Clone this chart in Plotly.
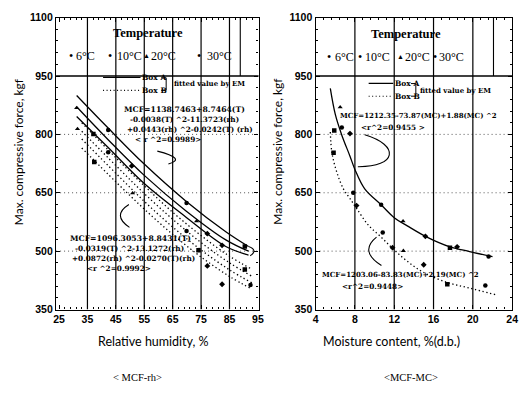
import plotly.graph_objects as go

W, H = 528, 396

# ---------------- data : left panel (MCF vs relative humidity) ----------------
t6_rh = [37.1, 37.4, 74.1, 90.4, 90.4]
t6_mcf = [801, 729, 502, 512, 453]
t10_rh = [42.3, 42.3, 69.9, 69.9, 92.4]
t10_mcf = [811, 754, 624, 552, 413]
t20_rh = [31.2, 31.5, 50.9, 73.4]
t20_mcf = [868, 814, 649, 577]
t30_rh = [50.6, 77.2, 77.2, 82.4, 82.4]
t30_mcf = [719, 545, 462, 515, 415]

boxA_rh = [31.2, 42.2, 54.8, 69.6, 83.7, 91.7]
boxA1_mcf = [900, 817, 725, 629, 550, 512]
boxA2_mcf = [871, 787, 696, 604, 529, 500]
boxA3_mcf = [846, 767, 675, 588, 512, 490]

boxB_rh = [33, 45, 55, 65, 75, 85, 93]
boxB1_mcf = [830, 740, 668, 600, 540, 487, 453]
boxB2_mcf = [808, 720, 648, 582, 522, 470, 435]
boxB3_mcf = [788, 700, 628, 562, 503, 452, 418]
boxB4_mcf = [765, 678, 608, 543, 485, 435, 402]

# ---------------- data : right panel (MCF vs moisture content) ----------------
r6_mc = [5.9, 5.83, 17.67, 17.4]
r6_mcf = [810, 753, 509, 415]
r10_mc = [6.67, 7.83, 10.67, 10.83, 21.6, 21.27]
r10_mcf = [818, 650, 619, 548, 486, 412]
r20_mc = [6.5, 12.9, 12.93]
r20_mcf = [870, 577, 501]
r30_mc = [7.5, 8.17, 15.17, 15.0, 18.4, 11.83]
r30_mcf = [802, 617, 538, 465, 511, 509]

lineA_mc = [5.5, 6.0, 6.67, 7.5, 8.0, 9.0, 10.67, 12.0, 13.33, 15.33, 17.67, 19.67, 22.0]
lineA_mcf = [918, 852, 798, 744, 710, 660, 619, 586, 565, 536, 511, 499, 486]
lineB_mc = [5.5, 5.67, 6.17, 6.83, 7.5, 8.17, 9.33, 10.67, 12.0, 13.33, 15.0, 17.33, 19.67, 22.33]
lineB_mcf = [806, 752, 702, 660, 635, 610, 568, 536, 503, 474, 445, 420, 405, 388]

# ticks
y_ticks = [350, 500, 650, 800, 950, 1100]
rh_ticks = [25, 35, 45, 55, 65, 75, 85, 95]
mc_ticks = [4, 8, 12, 16, 20, 24]
rh_grid = [35, 45, 55, 65, 75, 85]
mc_grid = [8, 12, 16, 20]
h_grid = [500, 650, 800]

SERIF = "DejaVu Serif"
SANS = "Lato"
DOTS = "1.3px,2.6px"

fig = go.Figure()

def add_pts(x, y, sym, xa, ya):
    fig.add_trace(go.Scatter(x=x, y=y, mode="markers", xaxis=xa, yaxis=ya,
                             marker=dict(symbol=sym, size=4.5, color="black"),
                             showlegend=False, hoverinfo="skip"))

def add_line(x, y, dash, xa, ya):
    fig.add_trace(go.Scatter(x=x, y=y, mode="lines", xaxis=xa, yaxis=ya,
                             line=dict(color="black", width=1.3, dash=dash, shape="spline"),
                             showlegend=False, hoverinfo="skip"))

# left panel
for yy in (boxA1_mcf, boxA2_mcf, boxA3_mcf):
    add_line(boxA_rh, yy, "solid", "x", "y")
for yy in (boxB1_mcf, boxB2_mcf, boxB3_mcf, boxB4_mcf):
    add_line(boxB_rh, yy, DOTS, "x", "y")
add_pts(t6_rh, t6_mcf, "square", "x", "y")
add_pts(t10_rh, t10_mcf, "circle", "x", "y")
add_pts(t20_rh, t20_mcf, "triangle-up", "x", "y")
add_pts(t30_rh, t30_mcf, "diamond", "x", "y")

# right panel
add_line(lineA_mc, lineA_mcf, "solid", "x2", "y2")
add_line(lineB_mc, lineB_mcf, DOTS, "x2", "y2")
add_pts(r6_mc, r6_mcf, "square", "x2", "y2")
add_pts(r10_mc, r10_mcf, "circle", "x2", "y2")
add_pts(r20_mc, r20_mcf, "triangle-up", "x2", "y2")
add_pts(r30_mc, r30_mcf, "diamond", "x2", "y2")

def px2paper(px, py):
    return px / W, 1 - py / H

yd = [1 - 313 / H, 1 - 12 / H]
axis_common = dict(showline=True, linecolor="black", linewidth=1.4, mirror="allticks",
                   ticks="inside", ticklen=4, tickcolor="black", showgrid=False, zeroline=False,
                   tickfont=dict(family="Liberation Sans", size=10.5, color="black", weight="bold"))

fig.update_layout(
    width=W, height=H, margin=dict(l=0, r=0, t=0, b=0),
    paper_bgcolor="white", plot_bgcolor="white",
    xaxis=dict(domain=[54 / W, 260 / W], range=[23.96, 95.24], tickvals=rh_ticks,
               minor=dict(dtick=2, tick0=25, ticks="inside", ticklen=2, tickcolor="black"),
               anchor="y", **axis_common),
    yaxis=dict(domain=yd, range=[350, 1100], tickvals=y_ticks,
               minor=dict(dtick=30, tick0=350, ticks="inside", ticklen=2, tickcolor="black"),
               anchor="x", **axis_common),
    xaxis2=dict(domain=[318 / W, 518 / W], range=[4, 24], tickvals=mc_ticks,
                minor=dict(dtick=0.8, tick0=4, ticks="inside", ticklen=2, tickcolor="black"),
                anchor="y2", **axis_common),
    yaxis2=dict(domain=yd, range=[350, 1100], tickvals=y_ticks,
                minor=dict(dtick=30, tick0=350, ticks="inside", ticklen=2, tickcolor="black"),
                anchor="x2", **axis_common),
)

shapes = []
# vertical grid
for g in rh_grid:
    shapes.append(dict(type="line", xref="x", yref="y", x0=g, x1=g, y0=350, y1=1100,
                       line=dict(color="black", width=1.2), layer="below"))
for g in mc_grid:
    shapes.append(dict(type="line", xref="x2", yref="y2", x0=g, x1=g, y0=350, y1=1100,
                       line=dict(color="black", width=1.2), layer="below"))
# horizontal dotted grid
for g in h_grid:
    for xr, yr in (("x domain", "y"), ("x2 domain", "y2")):
        shapes.append(dict(type="line", xref=xr, yref=yr, x0=0, x1=1, y0=g, y1=g,
                           line=dict(color="#555", width=1, dash="1px,3px"), layer="below"))
# legend box bottoms and right edges
shapes.append(dict(type="line", xref="x domain", yref="y", x0=0, x1=1, y0=950, y1=950,
                   line=dict(color="black", width=1.3)))
shapes.append(dict(type="line", xref="x2 domain", yref="y2", x0=0, x1=1, y0=950, y1=950,
                   line=dict(color="black", width=1.3)))
shapes.append(dict(type="line", xref="x", yref="y", x0=88.8, x1=88.8, y0=950, y1=1100,
                   line=dict(color="black", width=1.1)))
shapes.append(dict(type="line", xref="x2", yref="y2", x0=22.1, x1=22.1, y0=950, y1=1100,
                   line=dict(color="black", width=1.1)))

def path(ref, pts, kind="Q"):
    (x0, y0), rest = pts[0], pts[1:]
    s = f"M {x0},{y0} {kind} " + " ".join(f"{a},{b}" for a, b in rest)
    return dict(type="path", xref=ref[0], yref=ref[1], path=s, line=dict(color="black", width=1.1))

# loop at end of Box A lines (left)
shapes.append(path(("x", "y"), [(91.7, 512), (95.2, 503), (92.3, 488)]))
# pointer curves
shapes.append(path(("x", "y"), [(59.6, 757), (70, 738), (63.5, 724)]))
shapes.append(path(("x", "y"), [(49.6, 620), (43.5, 592), (49.8, 561)]))
shapes.append(path(("x2", "y2"), [(9.0, 799), (12.6, 772), (12.3, 716), (8.3, 717)], "C"))
shapes.append(path(("x2", "y2"), [(10.2, 536), (8.4, 500), (10.7, 463)]))
# legend line samples for Box A / Box B
for ref, xa, xb, ya, yb in ((("x", "y"), 40.5, 53.7, 946, 913), (("x2", "y2"), 9.4, 11.9, 931, 898)):
    shapes.append(dict(type="line", xref=ref[0], yref=ref[1], x0=xa, x1=xb, y0=ya, y1=ya,
                       line=dict(color="black", width=1.1)))
    shapes.append(dict(type="line", xref=ref[0], yref=ref[1], x0=xa, x1=xb, y0=yb, y1=yb,
                       line=dict(color="black", width=1.1, dash="1px,2.5px")))
# brackets
for (xa, ya, yb) in ((161, 74, 87), (415, 80, 93)):
    x0p, y0p = px2paper(xa, ya); x1p, y1p = px2paper(xa + 5, yb)
    shapes.append(dict(type="path", xref="paper", yref="paper",
                       path=f"M {x0p},{y0p} L {x1p},{y0p} L {x1p},{y1p} L {x0p},{y1p}",
                       line=dict(color="black", width=1)))
fig.update_layout(shapes=shapes)

ann = []
def txt(px, py, t, size=7, family=SERIF, bold=True, xanchor="left", angle=0):
    x, y = px2paper(px, py)
    ann.append(dict(x=x, y=y, xref="paper", yref="paper", text=t, showarrow=False,
                    xanchor=xanchor, yanchor="middle", textangle=angle,
                    font=dict(family=family, size=size, color="black",
                              weight="bold" if bold else "normal")))

# legends (Temperature)
txt(148, 28, "Temperature", size=12.5, family="Liberation Serif", xanchor="center")
txt(410, 29, "Temperature", size=12.5, family="Liberation Serif", xanchor="center")
leg_left = [(65, "•"), (72, "6°C"), (105, "•"), (114, "10°C"), (140, "▲"), (149, "20°C"), (195, "•"), (206, "30°C")]
leg_right = [(328, "•"), (336, "6°C"), (359, "•"), (366, "10°C"), (399, "▲"), (407, "20°C"), (435, "•"), (442, "30°C")]
for px, t in leg_left:
    txt(px, 52, t, size=7 if t == "▲" else 12, family="Liberation Serif", bold=False)
for px, t in leg_right:
    txt(px, 53, t, size=7 if t == "▲" else 12, family="Liberation Serif", bold=False)

# Box A / Box B legends
txt(139, 74, "Box A", size=7.5); txt(139, 87, "Box B", size=7.5)
txt(172, 80, "fitted value by EM", size=7)
txt(397, 80, "Box A", size=7.5); txt(397, 93, "Box B", size=7.5)
txt(422, 87, "fitted value by EM", size=7)

# equations
EQ = 7.3
txt(121, 107, "MCF=1138.7463+8.7464(T)", size=EQ + 0.4)
txt(127, 117, "-0.0038(T) ^2-11.3723(rh)", size=EQ)
txt(124, 127, "+0.0443(rh) ^2-0.0242(T) (rh)", size=EQ)
txt(132, 138, "< r ^2=0.9989>", size=EQ)
txt(66, 240, "MCF=1096.3053+8.8431(T)", size=EQ + 0.4)
txt(71, 250, "-0.0319(T) ^2-13.1272(rh)", size=EQ)
txt(68, 260, "+0.0872(rh) ^2-0.0270(T)(rh)", size=EQ)
txt(83, 271, "<r ^2=0.9992>", size=EQ)
txt(341, 113, "MCF=1212.35-73.87(MC)+1.88(MC) ^2", size=7)
txt(362, 125, "<r^2=0.9455 >", size=EQ)
txt(323, 277, "MCF=1203.06-83.83(MC)+2.19(MC) ^2", size=7)
txt(343, 289, "<r^2=0.9448>", size=EQ)

# axis titles
txt(16, 150, "Max. compressive force, kgf", size=12, family=SANS, bold=False, xanchor="center", angle=-90)
txt(279, 150, "Max. compressive force, kgf", size=12, family=SANS, bold=False, xanchor="center", angle=-90)
txt(153, 346, "Relative humidity, %", size=12.5, family=SANS, bold=False, xanchor="center")
txt(395, 346, "Moisture content, %(d.b.)", size=12.5, family=SANS, bold=False, xanchor="center")
txt(137, 383, "< MCF-rh>", size=10.5, family="Liberation Serif", bold=False, xanchor="center")
txt(415, 383, "<MCF-MC>", size=10.5, family="Liberation Serif", bold=False, xanchor="center")

fig.update_layout(annotations=ann)
fig.write_html("out.html")
